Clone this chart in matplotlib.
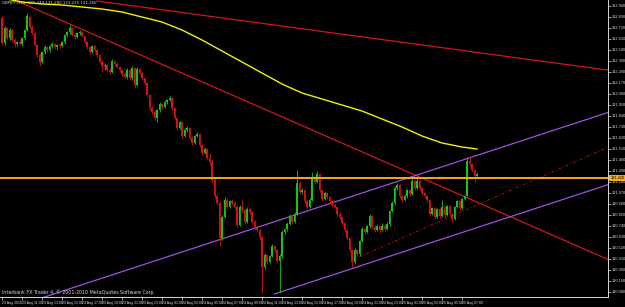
import matplotlib
matplotlib.use('agg')
import matplotlib.pyplot as plt
import numpy as np

# GBPJPY M15 bars
opens = [
    132.82, 132.57, 132.72, 132.62, 132.70, 132.60, 132.56, 132.58, 132.56, 132.62,
    132.70, 132.83, 132.73, 132.67, 132.55, 132.45, 132.38, 132.48, 132.53, 132.50,
    132.54, 132.56, 132.53, 132.55, 132.54, 132.58, 132.65, 132.68, 132.72, 132.65,
    132.63, 132.67, 132.68, 132.64, 132.58, 132.53, 132.48, 132.54, 132.50, 132.45,
    132.38, 132.34, 132.35, 132.30, 132.28, 132.39, 132.36, 132.33, 132.30, 132.26,
    132.23, 132.30, 132.22, 132.32, 132.15, 132.31, 132.27, 132.22, 132.17, 132.05,
    131.92, 131.88, 131.82, 131.90, 131.96, 131.93, 131.98, 132.00, 132.02, 131.92,
    131.82, 131.72, 131.78, 131.64, 131.70, 131.72, 131.62, 131.57, 131.64, 131.66,
    131.55, 131.47, 131.51, 131.42, 131.38, 131.20, 131.04, 130.97, 130.62, 130.83,
    131.00, 130.93, 130.99, 130.97, 130.93, 130.75, 130.93, 130.90, 130.78, 130.91,
    130.88, 130.78, 130.72, 130.70, 130.63, 130.33, 130.45, 130.38, 130.44, 130.54,
    130.50, 130.39, 130.44, 130.68, 130.71, 130.76, 130.84, 130.78, 130.86, 131.17,
    131.08, 131.10, 130.99, 130.93, 131.00, 131.23, 131.18, 131.26, 131.10, 131.01,
    131.07, 131.03, 130.99, 130.95, 130.93, 130.86, 130.83, 130.77, 130.70, 130.62,
    130.50, 130.38, 130.50, 130.46, 130.59, 130.71, 130.68, 130.74, 130.84, 130.73,
    130.70, 130.74, 130.70, 130.74, 130.71, 130.76, 130.89, 130.97, 131.12, 131.15,
    131.04, 131.00, 131.04, 131.10, 131.06, 131.19, 131.12, 131.19, 131.12, 131.07,
    131.04, 131.00, 130.86, 130.92, 130.83, 130.91, 130.84, 130.93, 130.85, 130.94,
    130.86, 130.81, 130.93, 130.99, 130.92, 131.01, 131.04, 131.39, 131.36, 131.30,
    131.24]
closes = [
    132.57, 132.72, 132.62, 132.70, 132.60, 132.56, 132.58, 132.56, 132.62, 132.70,
    132.84, 132.73, 132.67, 132.55, 132.45, 132.38, 132.48, 132.53, 132.50, 132.54,
    132.56, 132.53, 132.55, 132.54, 132.58, 132.65, 132.68, 132.72, 132.65, 132.63,
    132.67, 132.68, 132.64, 132.58, 132.53, 132.48, 132.54, 132.50, 132.45, 132.38,
    132.34, 132.35, 132.30, 132.28, 132.39, 132.36, 132.33, 132.30, 132.26, 132.23,
    132.30, 132.22, 132.32, 132.15, 132.31, 132.27, 132.22, 132.17, 132.05, 131.92,
    131.88, 131.82, 131.90, 131.96, 131.93, 131.98, 132.00, 132.02, 131.92, 131.82,
    131.72, 131.78, 131.64, 131.70, 131.72, 131.62, 131.57, 131.64, 131.66, 131.55,
    131.47, 131.51, 131.42, 131.38, 131.20, 131.04, 130.97, 130.62, 130.83, 131.00,
    130.93, 130.99, 130.97, 130.93, 130.75, 130.93, 130.90, 130.78, 130.91, 130.88,
    130.78, 130.72, 130.70, 130.63, 130.33, 130.45, 130.38, 130.44, 130.54, 130.50,
    130.39, 130.44, 130.68, 130.71, 130.76, 130.84, 130.78, 130.86, 131.17, 131.08,
    131.10, 130.99, 130.93, 131.00, 131.23, 131.18, 131.26, 131.10, 131.01, 131.07,
    131.03, 130.99, 130.95, 130.93, 130.86, 130.83, 130.77, 130.70, 130.62, 130.50,
    130.38, 130.50, 130.46, 130.59, 130.71, 130.68, 130.74, 130.84, 130.73, 130.70,
    130.74, 130.70, 130.74, 130.71, 130.76, 130.89, 130.97, 131.12, 131.15, 131.04,
    131.00, 131.04, 131.10, 131.06, 131.19, 131.12, 131.19, 131.12, 131.07, 131.04,
    131.00, 130.86, 130.92, 130.83, 130.91, 130.84, 130.93, 130.85, 130.94, 130.86,
    130.81, 130.93, 130.99, 130.92, 131.01, 131.04, 131.39, 131.36, 131.30, 131.24,
    131.26]
highs = [
    132.85, 132.74, 132.73, 132.72, 132.71, 132.62, 132.59, 132.60, 132.63, 132.71,
    132.87, 132.85, 132.75, 132.68, 132.56, 132.47, 132.49, 132.55, 132.54, 132.55,
    132.58, 132.57, 132.56, 132.57, 132.59, 132.66, 132.69, 132.75, 132.73, 132.67,
    132.68, 132.70, 132.69, 132.65, 132.59, 132.54, 132.55, 132.55, 132.51, 132.46,
    132.40, 132.37, 132.36, 132.32, 132.41, 132.40, 132.38, 132.34, 132.31, 132.28,
    132.32, 132.31, 132.34, 132.33, 132.33, 132.32, 132.28, 132.23, 132.18, 132.06,
    131.94, 131.90, 131.91, 131.98, 131.97, 132.00, 132.01, 132.04, 132.03, 131.93,
    131.83, 131.79, 131.79, 131.72, 131.74, 131.73, 131.64, 131.65, 131.68, 131.67,
    131.56, 131.53, 131.52, 131.47, 131.40, 131.22, 131.06, 130.99, 130.85, 131.03,
    131.02, 131.00, 131.01, 130.99, 130.95, 130.95, 131.00, 130.91, 130.93, 130.93,
    130.89, 130.80, 130.74, 130.71, 130.64, 130.47, 130.46, 130.45, 130.56, 130.55,
    130.51, 130.46, 130.70, 130.72, 130.78, 130.86, 130.85, 130.88, 131.30, 131.19,
    131.12, 131.11, 131.00, 131.02, 131.28, 131.24, 131.29, 131.27, 131.11, 131.09,
    131.08, 131.04, 131.00, 130.97, 130.94, 130.88, 130.84, 130.78, 130.71, 130.63,
    130.51, 130.52, 130.51, 130.60, 130.73, 130.72, 130.75, 130.86, 130.85, 130.75,
    130.76, 130.75, 130.77, 130.76, 130.78, 130.90, 130.99, 131.14, 131.17, 131.16,
    131.05, 131.06, 131.11, 131.11, 131.21, 131.20, 131.22, 131.20, 131.13, 131.08,
    131.05, 131.01, 130.93, 130.93, 130.92, 130.92, 131.00, 130.94, 130.95, 130.95,
    130.87, 130.94, 131.00, 131.00, 131.02, 131.05, 131.43, 131.44, 131.37, 131.31,
    131.28]
lows = [
    132.55, 132.55, 132.60, 132.60, 132.58, 132.53, 132.54, 132.55, 132.54, 132.60,
    132.69, 132.72, 132.65, 132.54, 132.43, 132.34, 132.36, 132.46, 132.48, 132.48,
    132.52, 132.51, 132.50, 132.52, 132.53, 132.56, 132.63, 132.66, 132.64, 132.61,
    132.62, 132.65, 132.63, 132.56, 132.51, 132.46, 132.47, 132.48, 132.43, 132.37,
    132.28, 132.30, 132.28, 132.26, 132.27, 132.34, 132.32, 132.28, 132.24, 132.22,
    132.21, 132.20, 132.20, 132.12, 132.14, 132.26, 132.20, 132.15, 132.03, 131.90,
    131.86, 131.80, 131.78, 131.88, 131.91, 131.92, 131.96, 131.99, 131.90, 131.80,
    131.70, 131.71, 131.62, 131.63, 131.68, 131.60, 131.55, 131.56, 131.63, 131.53,
    131.45, 131.46, 131.40, 131.35, 131.18, 131.02, 130.95, 130.54, 130.60, 130.82,
    130.91, 130.92, 130.95, 130.91, 130.73, 130.74, 130.88, 130.76, 130.77, 130.86,
    130.76, 130.70, 130.68, 130.60, 130.07, 130.31, 130.36, 130.37, 130.43, 130.48,
    130.37, 130.07, 130.42, 130.66, 130.69, 130.75, 130.76, 130.77, 130.85, 131.06,
    131.06, 130.97, 130.91, 130.92, 130.99, 131.16, 131.17, 131.08, 130.99, 131.00,
    131.01, 130.97, 130.93, 130.92, 130.84, 130.81, 130.75, 130.68, 130.60, 130.48,
    130.33, 130.36, 130.44, 130.44, 130.58, 130.66, 130.67, 130.72, 130.71, 130.68,
    130.69, 130.67, 130.69, 130.69, 130.70, 130.74, 130.88, 130.95, 131.10, 131.02,
    130.98, 130.99, 131.02, 131.04, 131.05, 131.10, 131.11, 131.10, 131.05, 131.02,
    130.98, 130.84, 130.85, 130.81, 130.82, 130.82, 130.83, 130.83, 130.84, 130.84,
    130.78, 130.80, 130.92, 130.90, 130.91, 131.00, 131.03, 131.34, 131.28, 131.18,
    131.22]

# moving average (yellow), sampled every 8 bars
ma_bars = [0, 8, 16, 24, 32, 40, 48, 56, 64, 72, 80, 88, 96,
           104, 112, 120, 128, 136, 144, 152, 160, 168, 176, 184, 190]
ma_vals = [133.02, 132.98, 132.96, 132.95, 132.93, 132.91, 132.88, 132.83,
           132.78, 132.70, 132.60, 132.49, 132.38, 132.27, 132.16, 132.07,
           132.01, 131.95, 131.89, 131.81, 131.73, 131.64, 131.57, 131.53,
           131.51]

# drawn objects: (bar, price) anchor pairs
red_upper = [(38, 132.99), (242, 132.30)]
red_steep = [(7, 132.98), (199, 130.88)]
red_dotted = [(140, 130.40), (240, 131.50)]
purple_upper = [(50, 130.30), (199, 131.52)]
purple_lower = [(109, 130.06), (242, 131.15)]
hline_price = 131.22

price_ticks = [132.94, 132.83, 132.72, 132.61, 132.50, 132.39, 132.28, 132.17,
               132.06, 131.95, 131.84, 131.73, 131.62, 131.51, 131.40, 131.29,
               131.18, 131.07, 130.96, 130.85, 130.74, 130.63, 130.52, 130.41,
               130.30, 130.19, 130.08]
time_labels = ['23 Aug 2010', '23 Aug 11:00', '23 Aug 13:00', '23 Aug 15:00',
               '23 Aug 17:00', '23 Aug 19:00', '23 Aug 21:00', '23 Aug 23:00',
               '24 Aug 01:00', '24 Aug 03:00', '24 Aug 05:00', '24 Aug 07:00',
               '24 Aug 09:00', '24 Aug 11:00', '24 Aug 13:00', '24 Aug 15:00',
               '24 Aug 17:00', '24 Aug 19:00', '24 Aug 21:00', '24 Aug 23:00',
               '25 Aug 01:00', '25 Aug 03:00', '25 Aug 05:00', '25 Aug 07:00']
label_every = 8

BULL = '#12c812'
BEAR = '#d81010'
FG = '#d8d8d8'
NARROW = ['Liberation Sans Narrow', 'Liberation Sans', 'DejaVu Sans']
XMIN, XMAX = -0.8, 242.4
YMIN, YMAX = 130.03, 133.00


def ray(ax, pts, start, **kw):
    """Draw a trendline through two anchors from bar `start` to the right edge."""
    (x0, y0), (x1, y1) = pts
    slope = (y1 - y0) / (x1 - x0)
    xs = np.array([start, XMAX])
    ax.plot(xs, y0 + slope * (xs - x0), **kw)


o = np.array(opens)
c = np.array(closes)
h = np.array(highs)
l = np.array(lows)
idx = np.arange(len(c))
cols = np.where(c >= o, BULL, BEAR)

fig = plt.figure(figsize=(6.25, 3.07), dpi=100, facecolor='black')
ax = fig.add_axes([0.0, 10 / 307, 608 / 625, 297 / 307])
ax.set_facecolor('black')

ax.vlines(idx, l, h, colors=cols, linewidth=0.6, zorder=3)
ax.bar(idx, np.maximum(np.abs(c - o), 0.006), bottom=np.minimum(o, c),
       width=0.62, color=cols, linewidth=0, zorder=4)

ax.plot(ma_bars, ma_vals, color='#f2f200', linewidth=1.0, zorder=5)

ray(ax, red_upper, red_upper[0][0], color='#d01818', linewidth=0.9, zorder=2)
ray(ax, red_steep, 0, color='#d01818', linewidth=0.9, zorder=2)
ray(ax, red_dotted, red_dotted[0][0], color='#b01010', linewidth=0.7,
    linestyle=(0, (3, 2, 1, 2)), zorder=2)
ray(ax, purple_upper, 0, color='#a050e0', linewidth=0.9, zorder=2)
ray(ax, purple_lower, purple_lower[0][0], color='#a050e0', linewidth=0.9, zorder=2)
ax.axhline(hline_price, color='#f5a623', linewidth=1.4, zorder=6)

ax.set_xlim(XMIN, XMAX)
ax.set_ylim(YMIN, YMAX)

ax.yaxis.tick_right()
ax.set_yticks(price_ticks)
ax.set_yticklabels([f'{p:.3f}' for p in price_ticks], family=NARROW)
ax.set_xticks(np.arange(len(time_labels)) * label_every)
ax.set_xticklabels(time_labels, ha='left', family=NARROW)
ax.tick_params(axis='y', colors=FG, labelcolor=FG, labelsize=2.8,
               length=2, width=0.5, direction='out', pad=0.6)
ax.tick_params(axis='x', colors=FG, labelcolor=FG, labelsize=2.5,
               length=2, width=0.5, direction='out', pad=0.6)

for side in ('left', 'top'):
    ax.spines[side].set_visible(False)
for side in ('right', 'bottom'):
    ax.spines[side].set_color(FG)
    ax.spines[side].set_linewidth(0.7)

# price tag of the horizontal line
ax.text(1.004, (hline_price - YMIN) / (YMAX - YMIN), f'{hline_price:.3f}',
        transform=ax.transAxes, fontsize=2.8, family=NARROW, color='black',
        va='center', ha='left', zorder=7, clip_on=False,
        bbox=dict(boxstyle='square,pad=0.3', fc='#f5a623', ec='none'))

ax.text(0.003, 0.997,
        f'GBPJPY,M15  {opens[-1]:.3f} {highs[-1]:.3f} {lows[-1]:.3f} {closes[-1]:.3f}',
        transform=ax.transAxes, fontsize=2.8, color=FG, va='top', ha='left',
        zorder=8)
ax.text(0.003, 0.008, 'Interbank FX Trader 4, \u00a9 2001-2010 MetaQuotes Software Corp.',
        transform=ax.transAxes, fontsize=3.4, color=FG, va='bottom', ha='left',
        zorder=8)

fig.savefig('out.png', dpi=100, facecolor='black')
